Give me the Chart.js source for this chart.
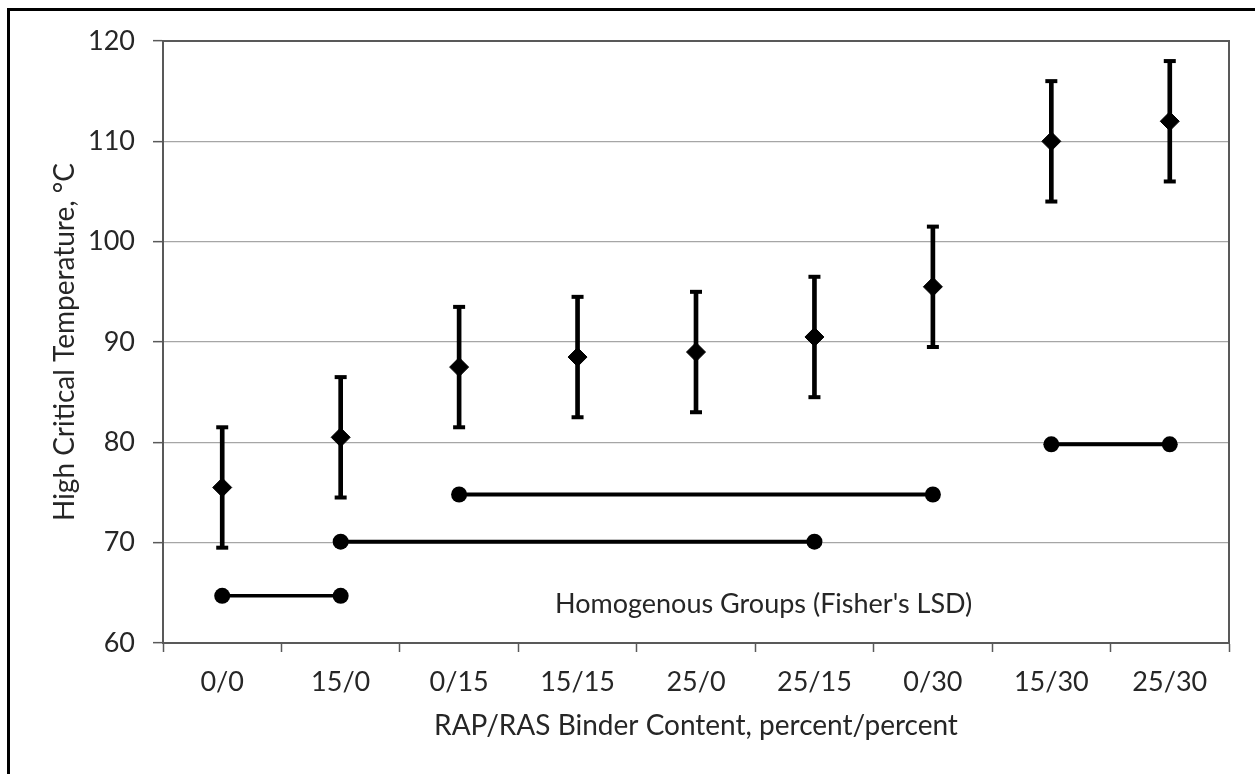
<!DOCTYPE html>
<html>
<head>
<meta charset="utf-8">
<script src="https://cdn.jsdelivr.net/npm/chart.js@4.4.1/dist/chart.umd.min.js"></script>
<style>
  html, body { margin: 0; padding: 0; background: #ffffff; }
  #wrap { position: relative; width: 1255px; height: 774px; }
</style>
</head>
<body>
<div id="wrap"><canvas id="chart" width="1255" height="774"></canvas></div>
<script>
// RAP/RAS binder content mixes (percent RAP / percent RAS)
const mixes = ['0/0', '15/0', '0/15', '15/15', '25/0', '25/15', '0/30', '15/30', '25/30'];

// Mean high critical temperature, °C
const meanTemp = [75.5, 80.5, 87.5, 88.5, 89.0, 90.5, 95.5, 110.0, 112.0];

// Half-width of the error bars, °C
const errTemp = [6, 6, 6, 6, 6, 6, 6, 6, 6];

// Homogenous groups (Fisher's LSD): each group is drawn as a bar joining its first and last member
const groupA = [64.7, 64.7, null, null, null, null, null, null, null];
const groupB = [null, 70.1, null, null, null, 70.1, null, null, null];
const groupC = [null, null, 74.8, null, null, null, 74.8, null, null];
const groupD = [null, null, null, null, null, null, null, 79.8, 79.8];

// Value axis range
const yMin = 60;
const yMax = 120;
const yStep = 10;

const groupNote = "Homogenous Groups (Fisher's LSD)";
const yTitle = 'High Critical Temperature, \u00B0C';
const xTitle = 'RAP/RAS Binder Content, percent/percent';

const FONT = 'Lato';
const FS = 27;
const TEXT = '#262626';
const AXIS = '#595959';
const GRID = '#a6a6a6';

const errLow = meanTemp.map((m, i) => m - errTemp[i]);
const errHigh = meanTemp.map((m, i) => m + errTemp[i]);
const errRange = meanTemp.map((m, i) => [errLow[i], errHigh[i]]);

// Outline of the plotting area plus the figure frame
const framePlugin = {
  id: 'frame',
  beforeDatasetsDraw(chart) {
    const { ctx, chartArea: a } = chart;
    ctx.save();
    ctx.strokeStyle = AXIS;
    ctx.lineWidth = 2;
    ctx.beginPath();
    ctx.moveTo(a.left, a.top);
    ctx.lineTo(a.right, a.top);
    ctx.lineTo(a.right, a.bottom);
    ctx.stroke();
    ctx.restore();
  },
  afterDraw(chart) {
    const { ctx } = chart;
    ctx.save();
    ctx.strokeStyle = '#000000';
    ctx.lineWidth = 3;
    ctx.strokeRect(8.5, 9.5, 2000, 2000);
    ctx.restore();
  }
};

// Caption for the group bars
const notePlugin = {
  id: 'groupNote',
  afterDatasetsDraw(chart) {
    const { ctx, chartArea: a, scales } = chart;
    ctx.save();
    ctx.font = FS + 'px ' + FONT;
    ctx.fillStyle = TEXT;
    ctx.textAlign = 'left';
    ctx.textBaseline = 'middle';
    ctx.fillText(groupNote, a.left + 392, scales.y.getPixelForValue(63.9));
    ctx.restore();
  }
};

function groupDataset(values, width) {
  return {
    type: 'line',
    data: values,
    spanGaps: true,
    borderColor: '#000000',
    borderWidth: width,
    pointStyle: 'circle',
    pointRadius: 8,
    pointBackgroundColor: '#000000',
    pointBorderColor: '#000000',
    pointBorderWidth: 0,
    order: 3
  };
}

function capDataset(values) {
  return {
    type: 'line',
    data: values,
    showLine: false,
    pointStyle: 'line',
    pointRadius: 6,
    borderColor: '#000000',
    pointBorderColor: '#000000',
    pointBorderWidth: 4,
    order: 1
  };
}

new Chart(document.getElementById('chart'), {
  type: 'line',
  data: {
    labels: mixes,
    datasets: [
      {
        type: 'line',
        data: meanTemp,
        showLine: false,
        pointStyle: 'rectRot',
        pointRadius: 9.5,
        pointBackgroundColor: '#000000',
        pointBorderColor: '#000000',
        pointBorderWidth: 1,
        order: 0
      },
      capDataset(errHigh),
      capDataset(errLow),
      {
        type: 'bar',
        data: errRange,
        backgroundColor: '#000000',
        borderWidth: 0,
        barThickness: 4,
        grouped: false,
        order: 2
      },
      groupDataset(groupA, 3.5),
      groupDataset(groupB, 4),
      groupDataset(groupC, 4),
      groupDataset(groupD, 4)
    ]
  },
  options: {
    responsive: false,
    animation: false,
    events: [],
    layout: { padding: { left: 0, top: 41, right: 26, bottom: 0 } },
    plugins: {
      legend: { display: false },
      tooltip: { enabled: false }
    },
    scales: {
      x: {
        type: 'category',
        offset: true,
        grid: {
          offset: true,
          drawOnChartArea: false,
          drawTicks: true,
          tickLength: 9,
          tickColor: AXIS,
          tickWidth: 1.5
        },
        border: { display: true, color: AXIS, width: 2 },
        ticks: {
          autoSkip: false,
          maxRotation: 0,
          padding: 14,
          color: TEXT,
          font: { family: FONT, size: FS }
        },
        title: {
          display: true,
          text: xTitle,
          color: TEXT,
          font: { family: FONT, size: 28 },
          padding: { top: 0, bottom: 31 }
        },
        afterFit(scale) { scale.height = 131; }
      },
      y: {
        type: 'linear',
        min: yMin,
        max: yMax,
        ticks: {
          stepSize: yStep,
          padding: 18,
          color: TEXT,
          font: { family: FONT, size: FS }
        },
        grid: {
          color: (c) => (c.tick && (c.tick.value === yMax || c.tick.value === yMin)) ? AXIS : GRID,
          lineWidth: 1.3,
          tickLength: 10,
          tickColor: AXIS,
          tickWidth: 1.5
        },
        border: { display: true, color: AXIS, width: 2 },
        title: {
          display: true,
          text: yTitle,
          color: TEXT,
          font: { family: FONT, size: 28 },
          padding: { top: 48, bottom: 0 }
        },
        afterFit(scale) { scale.width = 163; }
      }
    }
  },
  plugins: [framePlugin, notePlugin]
});
</script>
</body>
</html>
